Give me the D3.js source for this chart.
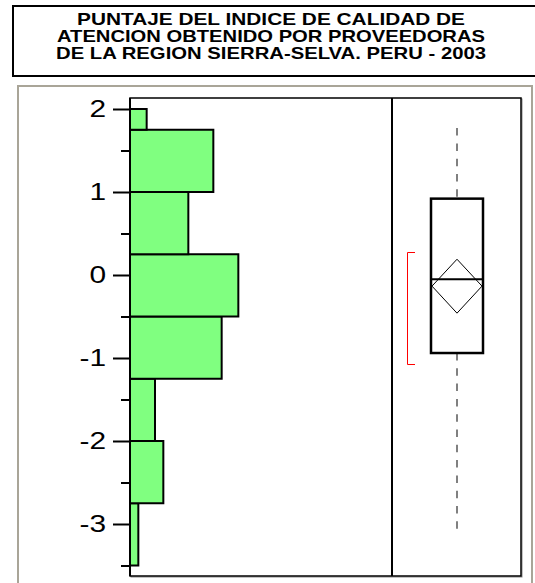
<!DOCTYPE html>
<html>
<head>
<meta charset="utf-8">
<script src="https://cdn.jsdelivr.net/npm/d3@7"></script>
<style>
  body { margin: 0; background: #fff; }
  svg { display: block; font-family: "Liberation Sans", Arial, sans-serif; }
</style>
</head>
<body>
<svg id="chart" width="535" height="583"></svg>
<script>
// data
var titleLines = [
    "PUNTAJE DEL INDICE DE CALIDAD DE",
    "ATENCION OBTENIDO  POR PROVEEDORAS",
    "DE LA REGION SIERRA-SELVA. PERU - 2003"
];
var titleWidths = [388, 428, 430];
var binEdges = [-3.5, -2.75, -2.0, -1.25, -0.5, 0.25, 1.0, 1.75, 2.0];
var binCounts = [1, 4, 3, 11, 13, 7, 10, 2];
var majorTicks = [-3, -2, -1, 0, 1, 2];
var minorTicks = [-3.5, -2.5, -1.5, -0.5, 0.5, 1.5];
var quartiles = [-0.94, -0.05, 0.92];       // q1, median, q3
var whiskers = [-3.06, 1.77];
var meanDiamond = [-0.46, -0.134, 0.19];    // lower ci, mean, upper ci
var shortestHalf = [-1.07, 0.28];

var svg = d3.select("#chart"),
    cs = {
        pallette: {
            bar: "#80ff80",
            frame: "#a9a598",
            whisker: "#808080",
            bracket: "#ff0000"
        },
        plot: { left: 130, right: 521, top: 98, bottom: 576, split: 392 },
        box: { cx: 457, half: 26 }
    };

// title box
svg.append("rect")
    .attr("x", 13).attr("y", 6).attr("width", 540).attr("height", 70)
    .attr("fill", "#fff").attr("stroke", "#000").attr("stroke-width", 2);

svg.append("g").selectAll("text")
    .data(titleLines)
    .enter().append("text")
    .attr("x", 271)
    .attr("y", (d, i) => 24.5 + i * 17.3)
    .attr("text-anchor", "middle")
    .attr("font-weight", "bold")
    .attr("font-size", 16.5)
    .attr("textLength", (d, i) => titleWidths[i])
    .attr("lengthAdjust", "spacingAndGlyphs")
    .text(d => d);

// outer grey frame
svg.append("rect")
    .attr("x", 18).attr("y", 86).attr("width", 514).attr("height", 530)
    .attr("fill", "#fff").attr("stroke", cs.pallette.frame).attr("stroke-width", 2);

// scales
cs.y = d3.scaleLinear().domain([-3, 2]).range([524, 109]);
cs.x = d3.scaleLinear().domain([0, 12]).range([cs.plot.left, cs.plot.left + 100]);

// plot box (with a little shadow on right/bottom)
svg.append("rect")
    .attr("x", cs.plot.left + 1).attr("y", cs.plot.top + 1)
    .attr("width", cs.plot.right - cs.plot.left).attr("height", cs.plot.bottom - cs.plot.top)
    .attr("fill", "none").attr("stroke", "#888").attr("stroke-width", 1);
svg.append("rect")
    .attr("x", cs.plot.left).attr("y", cs.plot.top)
    .attr("width", cs.plot.right - cs.plot.left).attr("height", cs.plot.bottom - cs.plot.top)
    .attr("fill", "#fff").attr("stroke", "#000").attr("stroke-width", 1.5);
svg.append("line")
    .attr("x1", cs.plot.split).attr("x2", cs.plot.split)
    .attr("y1", cs.plot.top).attr("y2", cs.plot.bottom)
    .attr("stroke", "#000").attr("stroke-width", 2);

// histogram
var bins = binCounts.map((c, i) => ({ lo: binEdges[i], hi: binEdges[i + 1], count: c }));
svg.append("g").selectAll("rect")
    .data(bins)
    .enter().append("rect")
    .attr("x", cs.x(0))
    .attr("y", d => cs.y(d.hi))
    .attr("width", d => cs.x(d.count) - cs.x(0))
    .attr("height", d => cs.y(d.lo) - cs.y(d.hi))
    .attr("fill", cs.pallette.bar)
    .attr("stroke", "#000")
    .attr("stroke-width", 2);

// left spine
svg.append("line")
    .attr("x1", cs.plot.left).attr("x2", cs.plot.left)
    .attr("y1", cs.plot.top).attr("y2", cs.plot.bottom)
    .attr("stroke", "#000").attr("stroke-width", 2);

// y axis: major + minor ticks
var major = d3.axisLeft(cs.y).tickValues(majorTicks).tickSize(17).tickPadding(7)
    .tickFormat(d => String(d));
var minor = d3.axisLeft(cs.y).tickValues(minorTicks).tickSize(9).tickFormat("");

var gMaj = svg.append("g").attr("transform", "translate(" + cs.plot.left + ",0)").call(major);
var gMin = svg.append("g").attr("transform", "translate(" + cs.plot.left + ",0)").call(minor);
[gMaj, gMin].forEach(g => {
    g.select(".domain").remove();
    g.selectAll("line").attr("stroke", "#000").attr("stroke-width", 2);
});
// labels in the picture are a bit stretched sideways
gMaj.selectAll("text").each(function () {
    var t = d3.select(this), x0 = +t.attr("x");
    t.attr("x", 0)
        .attr("transform", "translate(" + x0 + ",0) scale(1.3,1)")
        .attr("font-size", 23)
        .attr("font-family", "'Liberation Sans', Arial, sans-serif")
        .attr("fill", "#000");
});

// box plot
var bx = cs.box;
var gBox = svg.append("g");

gBox.selectAll("line.whisker")
    .data([[whiskers[1], quartiles[2]], [quartiles[0], whiskers[0]]])
    .enter().append("line")
    .attr("class", "whisker")
    .attr("x1", bx.cx).attr("x2", bx.cx)
    .attr("y1", d => cs.y(d[0])).attr("y2", d => cs.y(d[1]))
    .attr("stroke", cs.pallette.whisker)
    .attr("stroke-width", 2)
    .attr("stroke-dasharray", "7.5,7.8");

gBox.append("rect")
    .attr("x", bx.cx - bx.half).attr("y", cs.y(quartiles[2]))
    .attr("width", bx.half * 2).attr("height", cs.y(quartiles[0]) - cs.y(quartiles[2]))
    .attr("fill", "none").attr("stroke", "#000").attr("stroke-width", 2.5);

gBox.append("line")
    .attr("x1", bx.cx - bx.half).attr("x2", bx.cx + bx.half)
    .attr("y1", cs.y(quartiles[1])).attr("y2", cs.y(quartiles[1]))
    .attr("stroke", "#000").attr("stroke-width", 2);

var diamond = [
    [bx.cx, cs.y(meanDiamond[2])],
    [bx.cx + bx.half - 1, cs.y(meanDiamond[1])],
    [bx.cx, cs.y(meanDiamond[0])],
    [bx.cx - bx.half + 1, cs.y(meanDiamond[1])]
];
gBox.append("path")
    .attr("d", d3.line()(diamond) + "Z")
    .attr("fill", "none").attr("stroke", "#000").attr("stroke-width", 1);

// shortest half bracket
var bk = d3.path(),
    yTop = Math.round(cs.y(shortestHalf[1])) + 0.5,
    yBot = Math.round(cs.y(shortestHalf[0])) + 0.5;
bk.moveTo(415, yTop);
bk.lineTo(407.5, yTop);
bk.lineTo(407.5, yBot);
bk.lineTo(415, yBot);
gBox.append("path")
    .attr("d", bk.toString())
    .attr("fill", "none").attr("stroke", cs.pallette.bracket).attr("stroke-width", 1);
</script>
</body>
</html>
